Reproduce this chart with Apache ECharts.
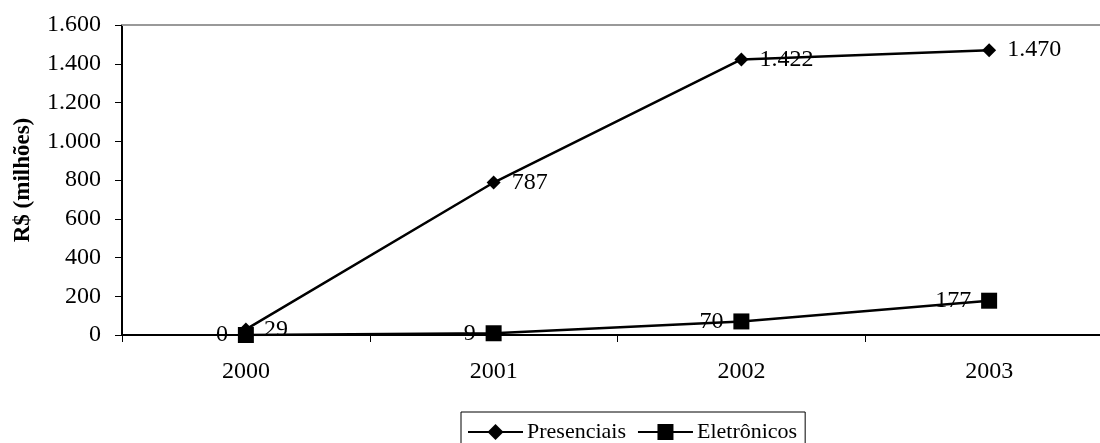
<!DOCTYPE html>
<html>
<head>
<meta charset="utf-8">
<script src="https://cdn.jsdelivr.net/npm/echarts@6/dist/echarts.min.js"></script>
<style>
  html, body { margin: 0; padding: 0; background: #fff; }
  #chart { width: 1100px; height: 443px; }
</style>
</head>
<body>
<div id="chart"></div>
<script>
// Annual volume (R$ millions) by channel
const years = ['2000', '2001', '2002', '2003'];
const presenciais = [29, 787, 1422, 1470];
const eletronicos = [0, 9, 70, 177];
const yTicks = { min: 0, max: 1600, step: 200 };

const FONT = 'Liberation Serif, Times New Roman, serif';
const FS = 24;

// Brazilian number format: dot as thousands separator
function fmt(v) {
  return String(Math.round(v)).replace(/\B(?=(\d{3})+(?!\d))/g, '.');
}

const chart = echarts.init(document.getElementById('chart'), null, { renderer: 'canvas' });

chart.setOption({
  backgroundColor: '#ffffff',
  animation: false,
  textStyle: { fontFamily: FONT, color: '#000' },
  grid: { left: 122, right: -13, top: 25, bottom: 108, containLabel: false, outerBoundsMode: 'none' },
  legend: {
    left: 461,
    top: 412,
    orient: 'horizontal',
    borderColor: '#000',
    borderWidth: 1,
    padding: [9, 8, 8, 6],
    itemWidth: 55,
    itemHeight: 20,
    itemGap: 11,
    textStyle: { fontFamily: FONT, fontSize: 22, color: '#000', padding: [0, 0, 0, -1] },
    data: ['Presenciais', 'Eletrônicos']
  },
  xAxis: [
    {
      type: 'category',
      data: years,
      boundaryGap: true,
      axisLine: { show: true, lineStyle: { color: '#000', width: 2 } },
      axisTick: { show: true, length: 7, lineStyle: { color: '#000', width: 1 } },
      axisLabel: { fontFamily: FONT, fontSize: FS, color: '#000', margin: 25 },
      splitLine: { show: false }
    },
    {
      // top edge of the plot area
      type: 'category',
      data: years,
      position: 'top',
      axisLine: { show: true, lineStyle: { color: '#999', width: 2 } },
      axisTick: { show: false },
      axisLabel: { show: false },
      splitLine: { show: false }
    }
  ],
  yAxis: {
    type: 'value',
    min: yTicks.min,
    max: yTicks.max,
    interval: yTicks.step,
    name: 'R$ (milhões)',
    nameLocation: 'middle',
    nameRotate: 90,
    nameGap: 87,
    nameTextStyle: { fontFamily: FONT, fontSize: 23, fontWeight: 'bold', color: '#000' },
    axisLine: { show: true, lineStyle: { color: '#000', width: 2 } },
    axisTick: { show: true, length: 7, lineStyle: { color: '#000', width: 1 } },
    axisLabel: { fontFamily: FONT, fontSize: FS, color: '#000', margin: 21, formatter: fmt },
    splitLine: { show: false }
  },
  series: [
    {
      name: 'Presenciais',
      type: 'line',
      data: presenciais,
      symbol: 'diamond',
      symbolSize: 14,
      lineStyle: { color: '#000', width: 2.5 },
      itemStyle: { color: '#000' },
      label: {
        show: true,
        position: 'right',
        distance: 11,
        fontFamily: FONT,
        fontSize: FS,
        color: '#000',
        formatter: p => fmt(p.value)
      },
      z: 2
    },
    {
      name: 'Eletrônicos',
      type: 'line',
      data: eletronicos,
      symbol: 'rect',
      symbolSize: 16,
      lineStyle: { color: '#000', width: 2.5 },
      itemStyle: { color: '#000' },
      label: {
        show: true,
        position: 'left',
        distance: 10,
        fontFamily: FONT,
        fontSize: FS,
        color: '#000',
        formatter: p => fmt(p.value)
      },
      z: 3
    }
  ]
});
</script>
</body>
</html>
